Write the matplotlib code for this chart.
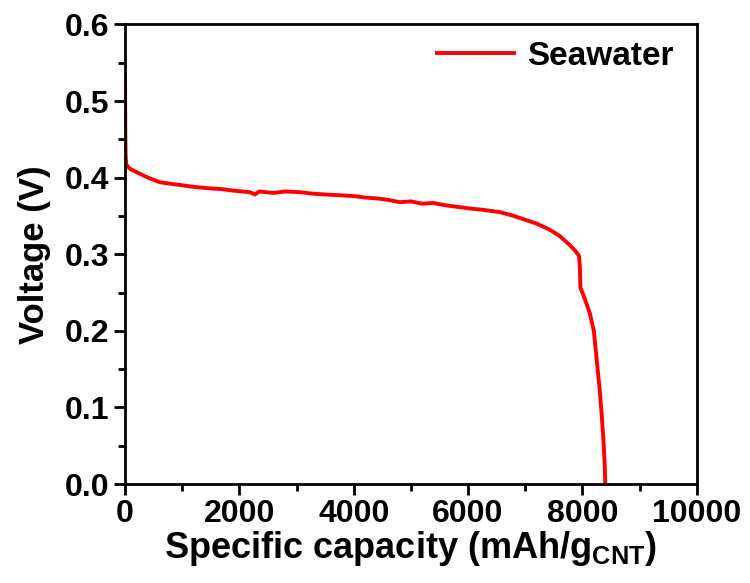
import matplotlib
matplotlib.use("Agg")
import matplotlib.pyplot as plt
from matplotlib.ticker import MultipleLocator

# discharge curve (mAh/g_CNT, V)
capacity = [0, 2, 5, 10, 20, 50, 100, 180, 262, 400, 612, 800, 1000, 1200,
            1486, 1700, 1900, 2185, 2270, 2350, 2600, 2800, 3059, 3300, 3500,
            3759, 4000, 4200, 4400, 4600, 4808, 5000, 5200, 5385, 5600, 5800,
            6000, 6259, 6556, 6800, 7000, 7200, 7430, 7600, 7780, 7880, 7940,
            7955, 7965, 8000, 8050, 8130, 8200, 8250, 8300, 8340, 8370, 8390,
            8400]
voltage = [0.534, 0.50, 0.46, 0.43, 0.418, 0.414, 0.411, 0.408, 0.405, 0.400,
           0.394, 0.392, 0.390, 0.388, 0.386, 0.385, 0.383, 0.381, 0.378,
           0.382, 0.380, 0.382, 0.381, 0.379, 0.378, 0.377, 0.376, 0.374,
           0.373, 0.371, 0.368, 0.369, 0.366, 0.367, 0.364, 0.362, 0.360,
           0.358, 0.355, 0.350, 0.345, 0.340, 0.332, 0.324, 0.312, 0.304,
           0.298, 0.285, 0.256, 0.250, 0.240, 0.223, 0.200, 0.162, 0.125,
           0.088, 0.055, 0.025, 0.0]

plt.rcParams["font.family"] = ["Liberation Sans", "DejaVu Sans"]
plt.rcParams["font.weight"] = "bold"
plt.rcParams["mathtext.fontset"] = "custom"
plt.rcParams["mathtext.rm"] = "Liberation Sans:bold"
plt.rcParams["mathtext.bf"] = "Liberation Sans:bold"

fig = plt.figure(figsize=(7.5, 5.83), dpi=100)
ax = fig.add_axes([0.1667, 0.1698, 0.7623, 0.7882])

ax.plot(capacity, voltage, color="#ff0000", linewidth=2.8, label="Seawater")

ax.set_xlim(0, 10000)
ax.set_ylim(0, 0.6)
ax.xaxis.set_major_locator(MultipleLocator(2000))
ax.xaxis.set_minor_locator(MultipleLocator(1000))
ax.yaxis.set_major_locator(MultipleLocator(0.1))
ax.yaxis.set_minor_locator(MultipleLocator(0.05))
ax.yaxis.set_major_formatter(plt.FormatStrFormatter("%.1f"))

for s in ax.spines.values():
    s.set_linewidth(2.0)
ax.tick_params(which="major", direction="out", length=8, width=2.0,
               labelsize=23, pad=3)
ax.tick_params(which="minor", direction="out", length=5, width=2.0)
for lab in ax.get_xticklabels() + ax.get_yticklabels():
    lab.set_fontweight("bold")

ax.set_xlabel(r"Specific capacity (mAh/g$_{\mathrm{CNT}}$)", fontsize=26,
              fontweight="bold", labelpad=0)
ax.set_ylabel("Voltage (V)", fontsize=25, fontweight="bold", labelpad=10)

leg = ax.legend(loc="upper right", frameon=False, fontsize=24,
                handlelength=2.3, handletextpad=0.4,
                bbox_to_anchor=(1.012, 1.029))

fig.savefig("out.png", dpi=100)
